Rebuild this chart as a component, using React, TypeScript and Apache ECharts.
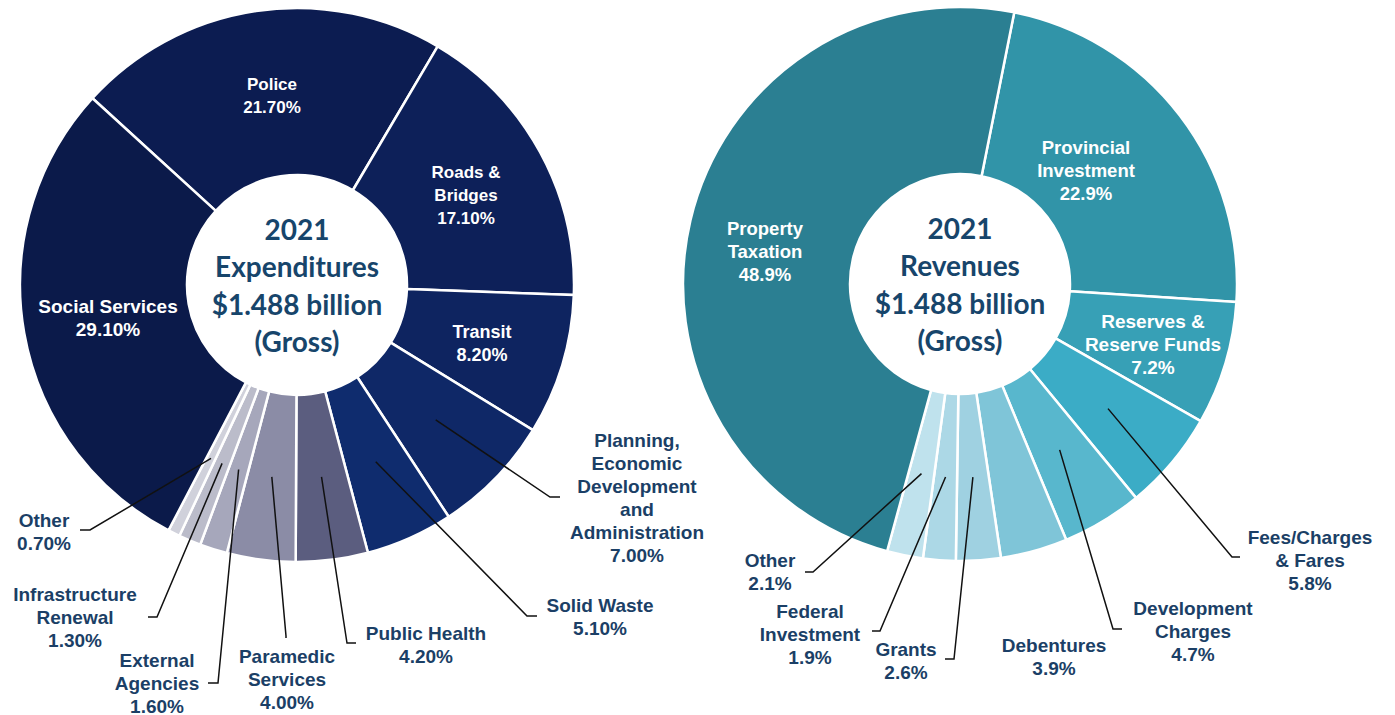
import React, { useEffect, useRef } from "react";
import * as echarts from "echarts";

// ---------- Data ----------
const expCategories = [
  "Police",
  "Roads & Bridges",
  "Transit",
  "Planning, Economic Development and Administration",
  "Solid Waste",
  "Public Health",
  "Paramedic Services",
  "External Agencies",
  "Infrastructure Renewal",
  "Other",
  "Social Services",
];
const expValues = [21.7, 17.1, 8.2, 7.0, 5.1, 4.2, 4.0, 1.6, 1.3, 0.7, 29.1];
const expLabelText = [
  "Police",
  "Roads &\nBridges",
  "Transit",
  "Planning,\nEconomic\nDevelopment\nand\nAdministration",
  "Solid Waste",
  "Public Health",
  "Paramedic\nServices",
  "External\nAgencies",
  "Infrastructure\nRenewal",
  "Other",
  "Social Services",
];

const revCategories = [
  "Provincial Investment",
  "Reserves & Reserve Funds",
  "Fees/Charges & Fares",
  "Development Charges",
  "Debentures",
  "Grants",
  "Federal Investment",
  "Other",
  "Property Taxation",
];
const revValues = [22.9, 7.2, 5.8, 4.7, 3.9, 2.6, 1.9, 2.1, 48.9];
const revLabelText = [
  "Provincial\nInvestment",
  "Reserves &\nReserve Funds",
  "Fees/Charges\n& Fares",
  "Development\nCharges",
  "Debentures",
  "Grants",
  "Federal\nInvestment",
  "Other",
  "Property\nTaxation",
];

const expCenterText = ["2021", "Expenditures", "$1.488 billion", "(Gross)"];
const revCenterText = ["2021", "Revenues", "$1.488 billion", "(Gross)"];

// ---------- Styles / layout ----------
const expColors = [
  "#0c1c51", "#0d2059", "#0e2460", "#0f2867", "#0f2c6e",
  "#5b5d7f", "#8b8ca6", "#a6a7bb", "#bbbcca", "#d0d1db", "#0b1a4a",
];
const revColors = [
  "#3194a8", "#37a0b6", "#3bacc6", "#58b7cd", "#7fc5d8",
  "#9fd1e1", "#acd8e6", "#bfe2ed", "#2b7f92",
];

const EXP_CENTER = [297, 285];
const REV_CENTER = [960, 284];
const R_IN = 110;
const R_OUT = 277;
const LABEL_BLUE = "#1b3f66";
const CENTER_BLUE = "#17456b";

type Lay = {
  inside: boolean;
  x: number;
  y: number;
  fs: number;
  elbow?: [number, number];
  end?: [number, number];
};

const expLayout: Lay[] = [
  { inside: true, x: 272, y: 96, fs: 17 },
  { inside: true, x: 466, y: 195, fs: 17 },
  { inside: true, x: 482, y: 343, fs: 18 },
  { inside: false, x: 637, y: 498, fs: 19, elbow: [550, 497], end: [560, 497] },
  { inside: false, x: 600, y: 617, fs: 19, elbow: [527, 616], end: [537, 616] },
  { inside: false, x: 426, y: 645, fs: 19, elbow: [347, 643], end: [356, 643] },
  { inside: false, x: 287, y: 679, fs: 19, elbow: [286, 636], end: [286, 638] },
  { inside: false, x: 157, y: 683, fs: 19, elbow: [218, 683], end: [208, 683] },
  { inside: false, x: 75, y: 617, fs: 19, elbow: [157, 617], end: [148, 617] },
  { inside: false, x: 44, y: 532, fs: 19, elbow: [90, 530], end: [80, 530] },
  { inside: true, x: 108, y: 318, fs: 19 },
];

const revLayout: Lay[] = [
  { inside: true, x: 1086, y: 170, fs: 18.5 },
  { inside: true, x: 1153, y: 344, fs: 19 },
  { inside: false, x: 1310, y: 560, fs: 19, elbow: [1232, 557], end: [1240, 557] },
  { inside: false, x: 1193, y: 631, fs: 19, elbow: [1113, 629], end: [1122, 629] },
  { inside: false, x: 1054, y: 657, fs: 19 },
  { inside: false, x: 906, y: 661, fs: 19, elbow: [954, 659], end: [945, 659] },
  { inside: false, x: 810, y: 634, fs: 19, elbow: [880, 631], end: [872, 631] },
  { inside: false, x: 770, y: 572, fs: 19, elbow: [813, 572], end: [805, 572] },
  { inside: true, x: 765, y: 251, fs: 18.5 },
];

function midAngles(values: number[], startAngle: number): number[] {
  const total = values.reduce((a, b) => a + b, 0);
  const res: number[] = [];
  let a = startAngle;
  for (const v of values) {
    const span = (v / total) * 360;
    res.push(a - span / 2);
    a -= span;
  }
  return res;
}

function leaderLines(values: number[], layout: Lay[], center: number[], startAngle: number) {
  const mids = midAngles(values, startAngle);
  const rMid = (R_IN + R_OUT) / 2;
  const out: any[] = [];
  values.forEach((_, i) => {
    const l = layout[i];
    if (l.inside || !l.elbow || !l.end) return;
    const rad = (mids[i] * Math.PI) / 180;
    const sx = center[0] + rMid * Math.cos(rad);
    const sy = center[1] - rMid * Math.sin(rad);
    out.push({
      type: "polyline",
      silent: true,
      z: 10,
      shape: { points: [[sx, sy], l.elbow, l.end] },
      style: { stroke: "#111111", lineWidth: 1.5, fill: null },
    });
  });
  return out;
}

function buildSeries(
  values: number[],
  names: string[],
  labels: string[],
  colors: string[],
  layout: Lay[],
  center: number[],
  startAngle: number,
  decimals: number
) {
  const data = values.map((v, i) => ({
    value: v,
    name: names[i],
    itemStyle: { color: colors[i] },
    label: {
      position: layout[i].inside ? "inside" : "outside",
      color: layout[i].inside ? "#ffffff" : LABEL_BLUE,
      fontSize: layout[i].fs,
      lineHeight: 23,
      formatter: labels[i] + "\n" + v.toFixed(decimals) + "%",
    },
    labelLine: { show: false },
  }));
  return {
    type: "pie",
    center,
    radius: [R_IN, R_OUT],
    startAngle,
    clockwise: true,
    avoidLabelOverlap: false,
    silent: true,
    itemStyle: { borderColor: "#ffffff", borderWidth: 2.5 },
    label: {
      show: true,
      fontFamily: "'Liberation Sans', Arial, sans-serif",
      fontWeight: "bold",
      align: "center",
    },
    labelLine: { show: false },
    labelLayout: (params: any) => {
      const l = layout[params.dataIndex];
      return { x: l.x, y: l.y, align: "center", verticalAlign: "middle" };
    },
    data,
  };
}

export default function App() {
  const ref = useRef<HTMLDivElement>(null);
  useEffect(() => {
    document.body.style.margin = "0";
    if (!ref.current) return;
    const chart = echarts.init(ref.current, undefined, { renderer: "svg" });
    const centerStyle = {
      textAlign: "center",
      textVerticalAlign: "middle",
      fontFamily: "Lato, 'Open Sans', sans-serif",
      fontWeight: "bold",
      fontSize: 28,
      lineHeight: 37.5,
      fill: CENTER_BLUE,
    };
    chart.setOption({
      animation: false,
      backgroundColor: "#ffffff",
      series: [
        buildSeries(expValues, expCategories, expLabelText, expColors, expLayout, EXP_CENTER, 137.6, 2),
        buildSeries(revValues, revCategories, revLabelText, revColors, revLayout, REV_CENTER, 78.7, 1),
      ],
      graphic: [
        ...leaderLines(expValues, expLayout, EXP_CENTER, 137.6),
        ...leaderLines(revValues, revLayout, REV_CENTER, 78.7),
        {
          type: "text",
          x: EXP_CENTER[0],
          y: EXP_CENTER[1],
          style: { ...centerStyle, text: expCenterText.join("\n") },
        },
        {
          type: "text",
          x: REV_CENTER[0],
          y: REV_CENTER[1],
          style: { ...centerStyle, text: revCenterText.join("\n") },
        },
      ],
    });
    return () => chart.dispose();
  }, []);
  return <div ref={ref} style={{ width: 1395, height: 715 }} />;
}
